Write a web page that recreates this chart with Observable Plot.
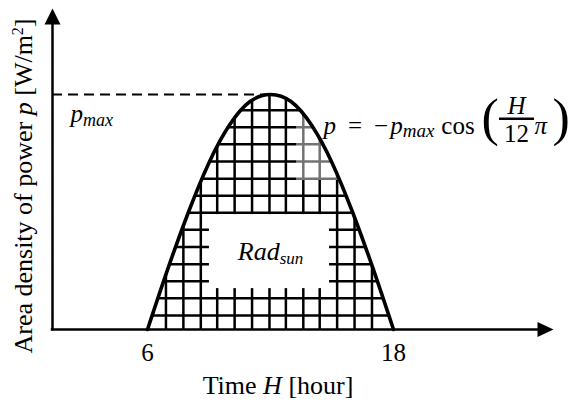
<!DOCTYPE html>
<html><head><meta charset="utf-8">
<script src="https://cdn.jsdelivr.net/npm/d3@7"></script>
<script src="https://cdn.jsdelivr.net/npm/@observablehq/plot@0.6"></script>
<style>html,body{margin:0;padding:0;background:#fff;} #chart svg{display:block;} text{white-space:pre;}</style>
</head><body><div id="chart"></div>
<script>
// ---- data ----
const hours = [6, 7, 8, 9, 10, 11, 12, 13, 14, 15, 16, 17, 18];
const power = [0, 0.26, 0.5, 0.71, 0.87, 0.97, 1, 0.97, 0.87, 0.71, 0.5, 0.26, 0];
const tickHours = [6, 18];
const hatchHours = [6.9, 7.75, 8.6, 9.4, 10.25, 11.1, 11.95, 12.75, 13.6, 14.4, 15.25, 16.1, 16.95];
const hatchPower = [0.06, 0.133, 0.205, 0.278, 0.351, 0.424, 0.497, 0.569, 0.642, 0.715, 0.788, 0.861, 0.933];
const pmax = 1;
const xLabel = "Time H [hour]";
const yLabel = "Area density of power p [W/m2]";
const radLabel = "Radsun";
const pmaxLabel = "pmax";
const formulaMain = "p = −pmax cos";
const fracNum = "H";
const fracDen = "\u200912\u2009";

const curve = hours.map((H, i) => ({H, p: power[i]}));

// axis extents (data units)
const xOrigin = 1.366, xTip = 25.805, yTip = 1.366;
const radBox = {x1: 9.02, x2: 14.88, y1: 0.174, y2: 0.489};
const formulaBox = {x1: 13.27, x2: 26.5, y1: 0.634, y2: 0.906};
const formulaAnchor = {H: 14.585, p: 0.834};
const radAnchor = {H: 12, p: 0.294};
const pmaxAnchor = {H: 2.24, p: 0.881};

const arrowUp = {draw(ctx) { ctx.moveTo(0, 0); ctx.lineTo(-8, 16); ctx.lineTo(8, 16); ctx.closePath(); }};
const arrowRight = {draw(ctx) { ctx.moveTo(0, 0); ctx.lineTo(-16, -7.5); ctx.lineTo(-16, 7.5); ctx.closePath(); }};

const serif = "Liberation Serif";
const ft = (data, o) => Plot.text(data, {text: d => d, lineAnchor: "bottom", fontFamily: serif, fill: "black", ...o});
const fa = (str, o) => Plot.text([formulaAnchor], {x: "H", y: "p", text: () => str, lineAnchor: "bottom", fontFamily: serif, fill: "black", textAnchor: "start", ...o});

const plot = Plot.plot({
  width: 569, height: 407,
  marginTop: 0, marginRight: 0, marginBottom: 0, marginLeft: 0,
  style: {fontFamily: serif, background: "white", color: "black"},
  x: {domain: [-1.1707, 26.585], range: [0, 569], axis: null},
  y: {domain: [-0.3319, 1.4], range: [407, 0], axis: null},
  marks: [
    Plot.areaY(curve, {x: "H", y: "p", curve: "natural", fill: "none"}),
    Plot.ruleX(hatchHours, {x: d => d, y1: 0, y2: 1.05, stroke: "black", strokeWidth: 2.5}),
    Plot.ruleY(hatchPower, {y: d => d, x1: 5.5, x2: 18.5, stroke: "black", strokeWidth: 2.5}),
    Plot.rect([radBox], {x1: "x1", x2: "x2", y1: "y1", y2: "y2", fill: "white"}),
    Plot.rect([formulaBox], {x1: "x1", x2: "x2", y1: "y1", y2: "y2", fill: "white", fillOpacity: 0.45}),
    Plot.ruleY([pmax], {x1: xOrigin, x2: 12, stroke: "black", strokeWidth: 2.2, strokeDasharray: "10,6"}),
    Plot.ruleX([xOrigin], {y1: 0, y2: yTip - 0.03, stroke: "black", strokeWidth: 2.5, strokeLinecap: "square"}),
    Plot.ruleY([0], {x1: xOrigin, x2: xTip - 0.3, stroke: "black", strokeWidth: 2.5, strokeLinecap: "square"}),
    Plot.line(curve, {x: "H", y: "p", curve: "natural", stroke: "black", strokeWidth: 3.6}),
    Plot.dot([{x: xOrigin, y: yTip}], {x: "x", y: "y", symbol: arrowUp, r: 5, fill: "black", stroke: "none"}),
    Plot.dot([{x: xTip, y: 0}], {x: "x", y: "y", symbol: arrowRight, r: 5, fill: "black", stroke: "none"}),
    ft(tickHours, {x: d => d, y: 0, dy: 31, textAnchor: "middle", fontSize: 25}),
    ft([xLabel], {frameAnchor: "bottom", dx: -7, dy: -14, textAnchor: "middle", fontSize: 26}),
    ft([yLabel], {frameAnchor: "left", dx: 31, dy: -18, rotate: -90, textAnchor: "middle", fontSize: 26}),
    ft([radLabel], {x: () => radAnchor.H, y: () => radAnchor.p, textAnchor: "middle", fontSize: 26}),
    ft([pmaxLabel], {x: () => pmaxAnchor.H, y: () => pmaxAnchor.p, textAnchor: "start", fontSize: 25}),
    fa(formulaMain, {fontSize: 25}),
    fa("(", {dx: 158, dy: 1, fontSize: 52}),
    fa(fracNum, {dx: 193, dy: -20, textAnchor: "middle", fontSize: 25, fontStyle: "italic"}),
    fa(fracDen, {dx: 193, dy: 8, textAnchor: "middle", fontSize: 25}),
    fa("π", {dx: 211, dy: 0, fontSize: 25, fontStyle: "italic"}),
    fa(")", {dx: 229, dy: 1, fontSize: 52})
  ]
});

// clip hatching to the area under the curve
const areaPath = plot.querySelector('g[aria-label="area"] path');
if (areaPath) {
  const defs = d3.select(plot).insert("defs", ":first-child");
  defs.append("clipPath").attr("id", "sunclip").append("path").attr("d", areaPath.getAttribute("d"));
  const rules = plot.querySelectorAll('g[aria-label="rule"]');
  rules[0].setAttribute("clip-path", "url(#sunclip)");
  rules[1].setAttribute("clip-path", "url(#sunclip)");
}

// rich text (italic, sub/superscripts)
const specs = {
  [xLabel]: [{t: "Time "}, {t: "H", i: 1}, {t: " [hour]"}],
  [yLabel]: [{t: "Area density of power "}, {t: "p", i: 1}, {t: " [W/m"}, {t: "2", fs: 16, dy: -9}, {t: "]", dy: 9}],
  [radLabel]: [{t: "Rad", i: 1}, {t: "sun", i: 1, fs: 17, dy: 4}],
  [pmaxLabel]: [{t: "p", i: 1}, {t: "max", i: 1, fs: 18, dy: 4}],
  [formulaMain]: [{t: "p", i: 1}, {t: "=", dx: 12}, {t: "−", dx: 12}, {t: "p", i: 1, dx: 2}, {t: "max", i: 1, fs: 19, dy: 3}, {t: "cos", dx: 7, dy: -3}]
};
plot.querySelectorAll("text").forEach(el => {
  const s = specs[el.textContent];
  if (s) {
    const t = d3.select(el);
    t.text(null);
    for (const p of s) {
      const ts = t.append("tspan").text(p.t);
      if (p.i) ts.attr("font-style", "italic");
      if (p.fs) ts.attr("font-size", p.fs);
      if (p.dx) ts.attr("dx", p.dx);
      if (p.dy) ts.attr("dy", p.dy);
    }
  } else if (el.textContent === fracDen) {
    el.setAttribute("text-decoration", "overline");
    el.style.textDecoration = "overline";
  }
});

document.getElementById("chart").appendChild(plot);
</script>
</body></html>
